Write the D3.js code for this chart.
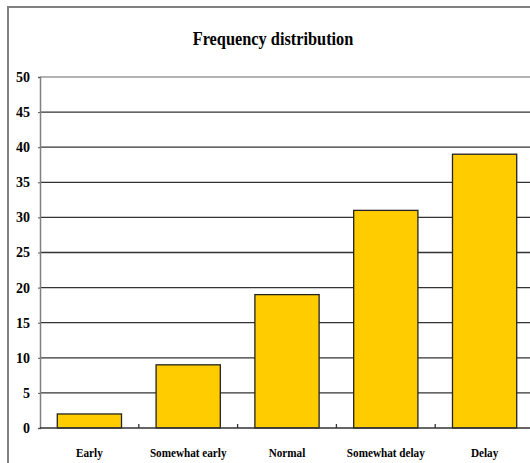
<!DOCTYPE html>
<html lang="en">
<head>
<meta charset="UTF-8">
<script src="https://d3js.org/d3.v7.min.js"></script>
<style>
  body { margin: 0; background: #fff; font-family: "Liberation Serif", "Times New Roman", serif; }
</style>
</head>
<body>
<div id="chart"></div>
<script>
// data
var categories = ["Early", "Somewhat early", "Normal", "Somewhat delay", "Delay"];
var frequencies = [2, 9, 19, 31, 39];
var yTicks = [0, 5, 10, 15, 20, 25, 30, 35, 40, 45, 50];

var W = 530, H = 463;
var plotLeft = 40, plotRight = 534, plotTop = 77, plotBottom = 428;

var svg = d3.select("#chart").append("svg")
    .attr("width", W)
    .attr("height", H);

// outer frame (only left/top visible in the picture)
svg.append("rect")
    .attr("x", 8).attr("y", 7)
    .attr("width", W + 20).attr("height", H + 20)
    .attr("fill", "none")
    .attr("stroke", "#808080")
    .attr("stroke-width", 2);

// title
svg.append("text")
    .attr("transform", "translate(273,45) scale(0.86,1)")
    .attr("text-anchor", "middle")
    .style("font-size", "19px")
    .style("font-weight", "bold")
    .text("Frequency distribution");

var x = d3.scaleBand()
    .domain(categories)
    .range([plotLeft, plotRight])
    .paddingInner(0.35)
    .paddingOuter(0.175);

var y = d3.scaleLinear()
    .domain([0, 50])
    .range([plotBottom, plotTop]);

// gridlines
svg.append("g")
    .selectAll("line")
    .data(yTicks.filter(function(d) { return d > 0; }))
    .enter().append("line")
        .attr("x1", plotLeft).attr("x2", plotRight)
        .attr("y1", function(d) { return y(d); })
        .attr("y2", function(d) { return y(d); })
        .attr("stroke", function(d) { return d === 50 ? "#999" : "#333"; })
        .attr("stroke-width", 1.3);

// y axis
var yAxis = svg.append("g")
    .attr("transform", "translate(" + plotLeft + ",0)")
    .call(d3.axisLeft(y).tickValues(yTicks).tickSize(2).tickPadding(8));
yAxis.select(".domain").attr("stroke", "#808080").attr("stroke-width", 1.5);
yAxis.selectAll(".tick line").attr("stroke", "#555");
yAxis.selectAll("text")
    .style("font-family", "'Liberation Serif', serif")
    .style("font-size", "14px")
    .style("font-weight", "bold")
    .attr("fill", "#000");

// bars
svg.append("g")
    .selectAll("rect")
    .data(frequencies)
    .enter().append("rect")
        .attr("x", function(d, i) { return x(categories[i]); })
        .attr("y", function(d) { return y(d); })
        .attr("width", x.bandwidth())
        .attr("height", function(d) { return y(0) - y(d); })
        .attr("fill", "#FFCC00")
        .attr("stroke", "#222")
        .attr("stroke-width", 1.3);

// x axis line and inner ticks between categories
svg.append("line")
    .attr("x1", plotLeft).attr("x2", plotRight)
    .attr("y1", y(0)).attr("y2", y(0))
    .attr("stroke", "#333").attr("stroke-width", 1.5);

svg.append("g")
    .selectAll("line")
    .data(categories.slice(1))
    .enter().append("line")
        .attr("x1", function(d) { return x(d) - x.step() * x.paddingInner() / 2; })
        .attr("x2", function(d) { return x(d) - x.step() * x.paddingInner() / 2; })
        .attr("y1", y(0)).attr("y2", y(0) - 4)
        .attr("stroke", "#333").attr("stroke-width", 1.3);

// category labels
svg.append("g")
    .selectAll("text")
    .data(categories)
    .enter().append("text")
        .attr("transform", function(d) {
            return "translate(" + (x(d) + x.bandwidth() / 2) + ",457) scale(0.86,1)";
        })
        .attr("text-anchor", "middle")
        .style("font-size", "13px")
        .style("font-weight", "bold")
        .text(function(d) { return d; });
</script>
</body>
</html>
